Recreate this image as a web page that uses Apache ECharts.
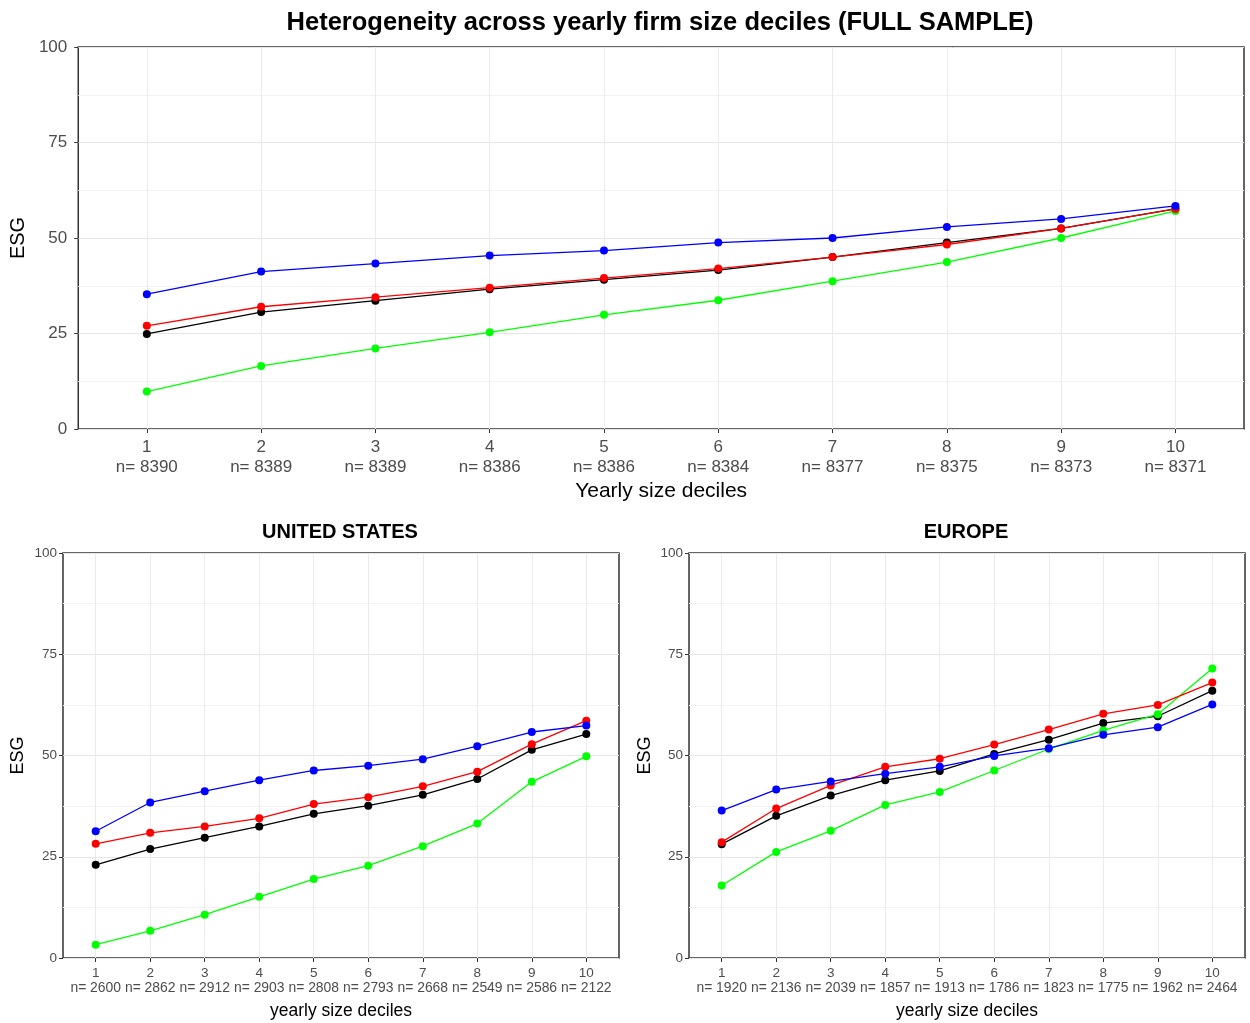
<!DOCTYPE html>
<html>
  <head>
    <meta charset="utf-8" />
    <title>Heterogeneity across yearly firm size deciles</title>
    <script src="https://cdn.jsdelivr.net/npm/echarts@6/dist/echarts.min.js"></script>
    <style>
      html, body { margin: 0; padding: 0; background: #fff; }
    </style>
  </head>
  <body>
    <div id="main" style="width: 1250px; height: 1023px"></div>

    <script type="text/javascript">
      // deciles 1..10
      var deciles = [1, 2, 3, 4, 5, 6, 7, 8, 9, 10];

      // observations per decile
      var nFull = [8390, 8389, 8389, 8386, 8386, 8384, 8377, 8375, 8373, 8371];
      var nUS = [2600, 2862, 2912, 2903, 2808, 2793, 2668, 2549, 2586, 2122];
      var nEU = [1920, 2136, 2039, 1857, 1913, 1786, 1823, 1775, 1962, 2464];

      // full sample
      var fullBlack = [24.9, 30.6, 33.6, 36.6, 39.1, 41.6, 45.0, 48.8, 52.5, 57.6];
      var fullRed = [27.0, 32.0, 34.5, 37.0, 39.5, 42.0, 45.0, 48.3, 52.5, 57.6];
      var fullGreen = [9.8, 16.5, 21.1, 25.3, 29.9, 33.7, 38.7, 43.7, 50.0, 57.1];
      var fullBlue = [35.3, 41.2, 43.3, 45.4, 46.7, 48.8, 50.0, 52.9, 55.0, 58.4];

      // united states
      var usBlack = [23.0, 26.9, 29.7, 32.5, 35.6, 37.6, 40.3, 44.2, 51.4, 55.3];
      var usRed = [28.2, 30.9, 32.5, 34.5, 38.0, 39.7, 42.4, 46.0, 52.8, 58.6];
      var usGreen = [3.3, 6.7, 10.7, 15.1, 19.5, 22.8, 27.6, 33.2, 43.5, 49.8];
      var usBlue = [31.3, 38.4, 41.2, 43.9, 46.3, 47.5, 49.1, 52.3, 55.8, 57.4];

      // europe
      var euBlack = [28.1, 35.1, 40.1, 43.9, 46.2, 50.4, 53.9, 58.0, 59.7, 66.0];
      var euRed = [28.6, 36.9, 42.6, 47.2, 49.2, 52.7, 56.4, 60.3, 62.5, 68.0];
      var euGreen = [17.9, 26.2, 31.4, 37.8, 41.0, 46.3, 51.6, 56.2, 60.2, 71.5];
      var euBlue = [36.4, 41.6, 43.6, 45.5, 47.2, 49.9, 51.8, 55.1, 57.0, 62.6];

      var txtGrey = "#4d4d4d";
      var fontFam = "Liberation Sans, Arial, sans-serif";

      function pairs(arr) {
        return deciles.map(function (d, i) {
          return [d, arr[i]];
        });
      }

      function mkX(idx, nArr, numSize, nSize, lh, margin, nameSize, nameGap, nameText) {
        return {
          gridIndex: idx,
          type: "value",
          min: 0.4,
          max: 10.6,
          name: nameText,
          nameLocation: "middle",
          nameGap: nameGap,
          nameTextStyle: { color: "#000", fontSize: nameSize, fontFamily: fontFam },
          axisLine: { show: false },
          axisTick: {
            show: true,
            customValues: deciles,
            length: 4,
            lineStyle: { color: "#333", width: 1 },
          },
          axisLabel: {
            customValues: deciles,
            margin: margin,
            color: txtGrey,
            fontFamily: fontFam,
            formatter: function (v) {
              return "{a|" + v + "}\n{b|n= " + nArr[v - 1] + "}";
            },
            rich: {
              a: { fontSize: numSize, color: txtGrey, lineHeight: lh, fontFamily: fontFam },
              b: { fontSize: nSize, color: txtGrey, lineHeight: lh, fontFamily: fontFam },
            },
          },
          splitLine: { show: true, lineStyle: { color: "#ebebeb", width: 1 } },
        };
      }

      function mkY(idx, labelSize, margin, nameSize, nameGap) {
        return {
          gridIndex: idx,
          type: "value",
          min: 0,
          max: 100,
          interval: 25,
          name: "ESG",
          nameLocation: "middle",
          nameRotate: 90,
          nameGap: nameGap,
          nameTextStyle: { color: "#000", fontSize: nameSize, fontFamily: fontFam },
          axisLine: { show: false },
          axisTick: { show: true, length: 4, lineStyle: { color: "#333" } },
          axisLabel: { color: txtGrey, fontSize: labelSize, margin: margin, fontFamily: fontFam },
          splitLine: { show: true, lineStyle: { color: "#e6e6e6", width: 1 } },
          minorTick: { show: false, splitNumber: 2 },
          minorSplitLine: { show: true, lineStyle: { color: "#f2f2f2", width: 1 } },
        };
      }

      function mkSeries(idx, data, color) {
        return {
          type: "line",
          xAxisIndex: idx,
          yAxisIndex: idx,
          data: pairs(data),
          symbol: "circle",
          symbolSize: 8,
          lineStyle: { color: color, width: 1.3 },
          itemStyle: { color: color },
          z: 3,
          animation: false,
        };
      }

      var chart = echarts.init(document.getElementById("main"), null, { renderer: "canvas" });

      var gridBase = { show: true, borderColor: "#333", borderWidth: 1.5, backgroundColor: "transparent" };

      var option = {
        backgroundColor: "#fff",
        animation: false,
        graphic: [
          {
            type: "text",
            x: 660, y: 23,
            style: {
              text: "Heterogeneity across yearly firm size deciles (FULL SAMPLE)",
              fontSize: 25.5, fontWeight: "bold", fill: "#000", fontFamily: fontFam,
              textAlign: "center", textVerticalAlign: "middle",
            },
          },
          {
            type: "text",
            x: 340, y: 532,
            style: {
              text: "UNITED STATES",
              fontSize: 20, fontWeight: "bold", fill: "#000", fontFamily: fontFam,
              textAlign: "center", textVerticalAlign: "middle",
            },
          },
          {
            type: "text",
            x: 966, y: 532,
            style: {
              text: "EUROPE",
              fontSize: 20, fontWeight: "bold", fill: "#000", fontFamily: fontFam,
              textAlign: "center", textVerticalAlign: "middle",
            },
          },
        ],
        grid: [
          Object.assign({ left: 77, top: 47, width: 1167, height: 382 }, gridBase),
          Object.assign({ left: 63, top: 553, width: 556, height: 405 }, gridBase),
          Object.assign({ left: 689, top: 553, width: 556, height: 405 }, gridBase),
        ],
        xAxis: [
          mkX(0, nFull, 17, 17, 20, 8, 21, 52, "Yearly size deciles"),
          mkX(1, nUS, 13.5, 13.9, 15, 8, 17.5, 44, "yearly size deciles"),
          mkX(2, nEU, 13.5, 13.9, 15, 8, 17.5, 44, "yearly size deciles"),
        ],
        yAxis: [mkY(0, 17, 11, 20, 45), mkY(1, 13.5, 6, 18, 36), mkY(2, 13.5, 6, 18, 35)],
        series: [
          mkSeries(0, fullBlack, "#000000"),
          mkSeries(0, fullGreen, "#00ff00"),
          mkSeries(0, fullRed, "#ff0000"),
          mkSeries(0, fullBlue, "#0000ff"),
          mkSeries(1, usBlack, "#000000"),
          mkSeries(1, usGreen, "#00ff00"),
          mkSeries(1, usRed, "#ff0000"),
          mkSeries(1, usBlue, "#0000ff"),
          mkSeries(2, euBlack, "#000000"),
          mkSeries(2, euGreen, "#00ff00"),
          mkSeries(2, euRed, "#ff0000"),
          mkSeries(2, euBlue, "#0000ff"),
        ],
      };

      chart.setOption(option);
    </script>
  </body>
</html>
